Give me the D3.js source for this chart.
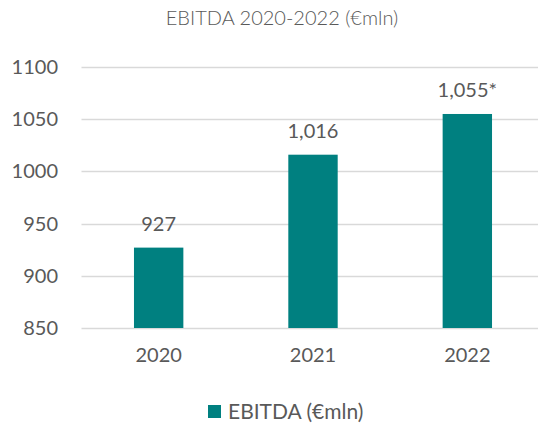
<!DOCTYPE html>
<html>
<head>
<meta charset="utf-8">
<script src="https://cdn.jsdelivr.net/npm/d3@7"></script>
<style>
  body { margin: 0; background: #fff; }
  text { font-family: Lato, "Open Sans", sans-serif; fill: #595959; }
</style>
</head>
<body>
<svg id="chart" width="538" height="425"></svg>
<script>
const years = ["2020", "2021", "2022"];
const ebitda = [927, 1016, 1055];
const valueLabels = ["927", "1,016", "1,055*"];
const yTicks = [850, 900, 950, 1000, 1050, 1100];
const seriesName = "EBITDA (€mln)";
const title = "EBITDA 2020-2022 (€mln)";

const svg = d3.select("#chart");

const x = d3.scaleBand().domain(years).range([81.5, 544.5]).paddingInner(0.68).paddingOuter(0.34);
const y = d3.scaleLinear().domain([850, 1100]).range([328, 67]);

// gridlines
svg.append("g")
  .selectAll("line")
  .data(yTicks)
  .join("line")
  .attr("x1", 81.5)
  .attr("x2", 544.5)
  .attr("y1", d => Math.round(y(d)) + 0.5)
  .attr("y2", d => Math.round(y(d)) + 0.5)
  .attr("stroke", "#d9d9d9")
  .attr("stroke-width", 1.5);

// y tick labels
svg.append("g")
  .selectAll("text")
  .data(yTicks)
  .join("text")
  .attr("x", 58)
  .attr("y", d => y(d))
  .attr("dy", "0.35em")
  .attr("text-anchor", "end")
  .style("font-size", "20px")
  .text(d => d);

// bars
svg.append("g")
  .selectAll("rect")
  .data(ebitda)
  .join("rect")
  .attr("x", (d, i) => x(years[i]))
  .attr("width", x.bandwidth())
  .attr("y", d => y(d))
  .attr("height", d => y(850) - y(d))
  .attr("fill", "#008080");

// value labels
svg.append("g")
  .selectAll("text")
  .data(ebitda)
  .join("text")
  .attr("x", (d, i) => x(years[i]) + x.bandwidth() / 2)
  .attr("y", d => y(d) - 17)
  .attr("text-anchor", "middle")
  .style("font-size", "20px")
  .text((d, i) => valueLabels[i]);

// x labels
svg.append("g")
  .selectAll("text")
  .data(years)
  .join("text")
  .attr("x", d => x(d) + x.bandwidth() / 2)
  .attr("y", 355)
  .attr("dy", "0.35em")
  .attr("text-anchor", "middle")
  .style("font-size", "20px")
  .text(d => d);

// title
svg.append("text")
  .attr("x", 282)
  .attr("y", 18)
  .attr("dy", "0.35em")
  .attr("text-anchor", "middle")
  .style("font-size", "20px")
  .style("font-weight", 300)
  .text(title);

// legend
const legend = svg.append("g");
legend.append("rect")
  .attr("x", 208).attr("y", 405)
  .attr("width", 13).attr("height", 13)
  .attr("fill", "#008080");
legend.append("text")
  .attr("x", 228).attr("y", 412)
  .attr("dy", "0.35em")
  .style("font-size", "21px")
  .text(seriesName);
</script>
</body>
</html>
